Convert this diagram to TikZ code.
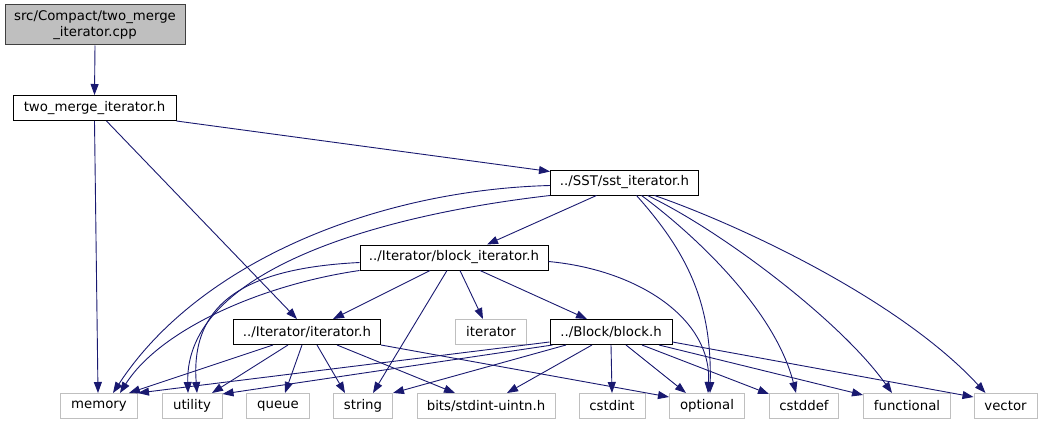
\documentclass[tikz,border=0pt]{standalone}
\usepackage{fontspec}
\setmainfont{DejaVu Sans}
\usepackage{tikz}
\usetikzlibrary{arrows.meta, positioning}
\definecolor{edgeblue}{HTML}{191970}
\definecolor{sysgray}{HTML}{BFBFBF}
\definecolor{rootdraw}{HTML}{404040}
\tikzset{
  hdr/.style={rectangle, draw=black, fill=white, line width=1pt, inner sep=0pt,
              minimum height=25pt, font=\fontsize{13.3}{15.5}\selectfont},
  sys/.style={hdr, draw=sysgray},
  root/.style={hdr, fill=sysgray, draw=rootdraw, align=center, minimum height=40pt},
  dep/.style={-{Triangle[length=11pt, width=8pt]}, draw=edgeblue, line width=0.9pt}
}
\begin{document}
\begin{tikzpicture}[x=1pt, y=-1pt]
  \useasboundingbox (0,0) rectangle (1043,425);
  \node[root, minimum width=180pt] (cpp) at (95,25) {src/Compact/two\_merge\\\_iterator.cpp};
  \node[hdr, minimum width=163pt] (twomerge) at (94.5,108) {two\_merge\_iterator.h};
  \node[hdr, minimum width=148pt] (sstit) at (624.5,182.5) {../SST/sst\_iterator.h};
  \node[hdr, minimum width=188pt] (blockit) at (454,257.5) {../Iterator/block\_iterator.h};
  \node[hdr, minimum width=147pt] (iter) at (307,332) {../Iterator/iterator.h};
  \node[sys, minimum width=71pt] (stditer) at (491,332) {iterator};
  \node[hdr, minimum width=122pt] (block) at (611,332) {../Block/block.h};
  \node[sys, minimum width=77pt] (memory) at (99,406) {memory};
  \node[sys, minimum width=60pt] (utility) at (192,406) {utility};
  \node[sys, minimum width=63pt] (queue) at (278,406) {queue};
  \node[sys, minimum width=59pt] (string) at (363,406) {string};
  \node[sys, minimum width=138pt] (bits) at (486,406) {bits/stdint-uintn.h};
  \node[sys, minimum width=66pt] (cstdint) at (612,406) {cstdint};
  \node[sys, minimum width=75pt] (optional) at (707,406) {optional};
  \node[sys, minimum width=69pt] (cstddef) at (804,406) {cstddef};
  \node[sys, minimum width=87pt] (functional) at (907,406) {functional};
  \node[sys, minimum width=63pt] (vector) at (1005.5,406) {vector};

  \draw[dep] (cpp.south) -- (twomerge.north);
  \draw[dep] (twomerge.south) -- ([xshift=-1]memory.north);
  \draw[dep] ([xshift=12]twomerge.south) -- ([xshift=-10]iter.north);
  \draw[dep] (twomerge.south east) -- ([yshift=-2]sstit.north west);

  \draw[dep] ([yshift=-3]sstit.west) .. controls (380,190) and (200,260) .. ([xshift=14]memory.north);
  \draw[dep] (sstit.south west) .. controls (380,215) and (185,270) .. ([xshift=-4]utility.north);
  \draw[dep] ([xshift=-28]sstit.south) -- ([xshift=33]blockit.north);
  \draw[dep] ([xshift=12]sstit.south) .. controls (685,250) and (712,300) .. ([xshift=3]optional.north);
  \draw[dep] ([xshift=17]sstit.south) .. controls (695,235) and (775,310) .. ([xshift=-8]cstddef.north);
  \draw[dep] ([xshift=23]sstit.south) .. controls (720,230) and (840,320) .. ([xshift=-15]functional.north);
  \draw[dep] ([xshift=30]sstit.south) .. controls (740,225) and (900,300) .. ([xshift=-20]vector.north);

  \draw[dep] (blockit.south west) .. controls (260,285) and (160,330) .. ([xshift=21]memory.north);
  \draw[dep] ([yshift=-5]blockit.west) .. controls (250,268) and (190,300) .. ([xshift=5]utility.north);
  \draw[dep] ([xshift=-24]blockit.south) -- ([xshift=26]iter.north);
  \draw[dep] ([xshift=-7]blockit.south) -- ([xshift=10]string.north);
  \draw[dep] ([xshift=6]blockit.south) -- ([xshift=-8]stditer.north);
  \draw[dep] ([xshift=26]blockit.south) -- ([xshift=-24]block.north);
  \draw[dep] ([yshift=-4]blockit.east) .. controls (640,270) and (712,320) .. ([xshift=1]optional.north);

  \draw[dep] ([xshift=-34]iter.south) -- ([xshift=30]memory.north);
  \draw[dep] ([xshift=-19]iter.south) -- ([xshift=20]utility.north);
  \draw[dep] ([xshift=-5]iter.south) -- ([xshift=7]queue.north);
  \draw[dep] ([xshift=10]iter.south) -- ([xshift=-18]string.north);
  \draw[dep] ([xshift=30]iter.south) -- ([xshift=-31]bits.north);
  \draw[dep] (iter.south east) -- ([yshift=-4]optional.north west);

  \draw[dep] ([yshift=3]block.south west) -- (memory.north east);
  \draw[dep] ([xshift=3]block.south west) -- ([yshift=-1]utility.north east);
  \draw[dep] ([xshift=-45]block.south) -- (string.north east);
  \draw[dep] ([xshift=-19]block.south) -- ([xshift=21]bits.north);
  \draw[dep] (block.south) -- (cstdint.north);
  \draw[dep] ([xshift=15]block.south) -- ([xshift=-21]optional.north);
  \draw[dep] ([xshift=31]block.south) -- ([yshift=-1]cstddef.north west);
  \draw[dep] ([xshift=48]block.south) -- ([yshift=-2]functional.north west);
  \draw[dep] ([yshift=-10]block.east) -- ([yshift=-4]vector.north west);
\end{tikzpicture}
\end{document}
